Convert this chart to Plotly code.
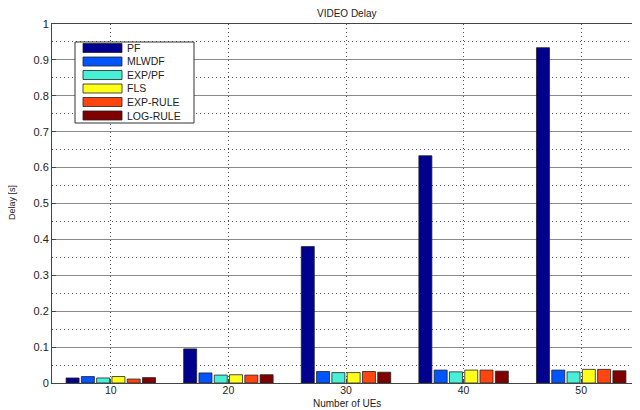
import plotly.graph_objects as go

ues = [10, 20, 30, 40, 50]
series_names = ["PF", "MLWDF", "EXP/PF", "FLS", "EXP-RULE", "LOG-RULE"]
pf = [0.014, 0.095, 0.380, 0.633, 0.934]
mlwdf = [0.018, 0.028, 0.032, 0.036, 0.036]
exp_pf = [0.014, 0.022, 0.029, 0.031, 0.031]
fls = [0.018, 0.023, 0.029, 0.036, 0.038]
exp_rule = [0.011, 0.022, 0.032, 0.036, 0.038]
log_rule = [0.015, 0.023, 0.030, 0.033, 0.034]
series_values = [pf, mlwdf, exp_pf, fls, exp_rule, log_rule]
colors = ["#00008F", "#0055FF", "#48F0D8", "#FFFF1A", "#FF4510", "#800000"]
yticks = [0, 0.1, 0.2, 0.3, 0.4, 0.5, 0.6, 0.7, 0.8, 0.9, 1]

# page body has an 8px margin; screen coords below are page pixels
OFF = 8
W, H = 640 - OFF, 410 - OFF
PL, PT, PB, PR = 52, 24, 383, 640   # plot area in screen pixels
L, T = PL - OFF, PT - OFF
B = H - (PB - OFF)
R = 0
pw, ph = PR - PL, PB - PT

def px(x):
    return (x - PL) / pw

def py(y):
    return (PB - y) / ph

fig = go.Figure()
for name, vals, col in zip(series_names, series_values, colors):
    fig.add_trace(go.Bar(
        x=ues, y=vals, name=name,
        marker=dict(color=col, line=dict(color="#222222", width=0.8)),
        showlegend=False,
    ))

FONT = "Liberation Sans, Arial, sans-serif"

# custom legend (MATLAB-style wide swatches)
shapes = [dict(type="rect", xref="paper", yref="paper",
               x0=px(75), x1=px(194), y0=py(123), y1=py(42),
               line=dict(color="#333333", width=1), fillcolor="white", layer="above")]
annotations = []
row_y = [48, 61.5, 75, 88.5, 102, 115.5]
for name, col, ry in zip(series_names, colors, row_y):
    shapes.append(dict(type="rect", xref="paper", yref="paper",
                       x0=px(83), x1=px(122), y0=py(ry + 4.5), y1=py(ry - 4.5),
                       line=dict(color="#222222", width=0.8), fillcolor=col, layer="above"))
    annotations.append(dict(xref="paper", yref="paper", x=px(125), y=py(ry),
                            text=name, showarrow=False, xanchor="left", yanchor="middle",
                            font=dict(family=FONT, size=10.5, color="#222222")))

annotations.append(dict(xref="paper", yref="paper", x=px(347), y=py(13), text="VIDEO Delay",
                        showarrow=False, xanchor="center", yanchor="middle",
                        font=dict(family=FONT, size=10, color="#222222")))
annotations.append(dict(xref="paper", yref="paper", x=px(347), y=py(403.5), text="Number of UEs",
                        showarrow=False, xanchor="center", yanchor="middle",
                        font=dict(family=FONT, size=10, color="#222222")))
annotations.append(dict(xref="paper", yref="paper", x=px(12), y=py(202), text="Delay [s]",
                        showarrow=False, xanchor="center", yanchor="middle", textangle=-90,
                        font=dict(family=FONT, size=9, color="#222222")))

DOT = "1px,3px"
fig.update_layout(
    width=W, height=H,
    margin=dict(l=L, r=R, t=T, b=B, pad=0),
    paper_bgcolor="white", plot_bgcolor="white",
    barmode="group", bargap=0.22, bargroupgap=0.15,
    font=dict(family=FONT, size=11, color="#222222"),
    shapes=shapes, annotations=annotations,
    xaxis=dict(
        range=[5, 5 + pw / 11.76], tickvals=ues, ticktext=[str(u) for u in ues],
        showgrid=True, gridcolor="#555555", griddash=DOT, gridwidth=1,
        showline=True, linecolor="#444444", linewidth=1, mirror=True,
        ticks="inside", ticklen=4, tickcolor="#444444",
        zeroline=False, ticklabelstandoff=-3,
        tickfont=dict(size=10.5),
    ),
    yaxis=dict(
        range=[0, 1], tickvals=yticks, ticktext=[("%g" % v) for v in yticks],
        showgrid=True, gridcolor="#8a8a8a", gridwidth=1,
        minor=dict(dtick=0.05, showgrid=True, gridcolor="#555555", griddash=DOT, gridwidth=1),
        showline=True, linecolor="#444444", linewidth=1,
        ticks="inside", ticklen=4, tickcolor="#444444",
        zeroline=False,
        tickfont=dict(size=11),
    ),
)

fig.write_html("out.html")
